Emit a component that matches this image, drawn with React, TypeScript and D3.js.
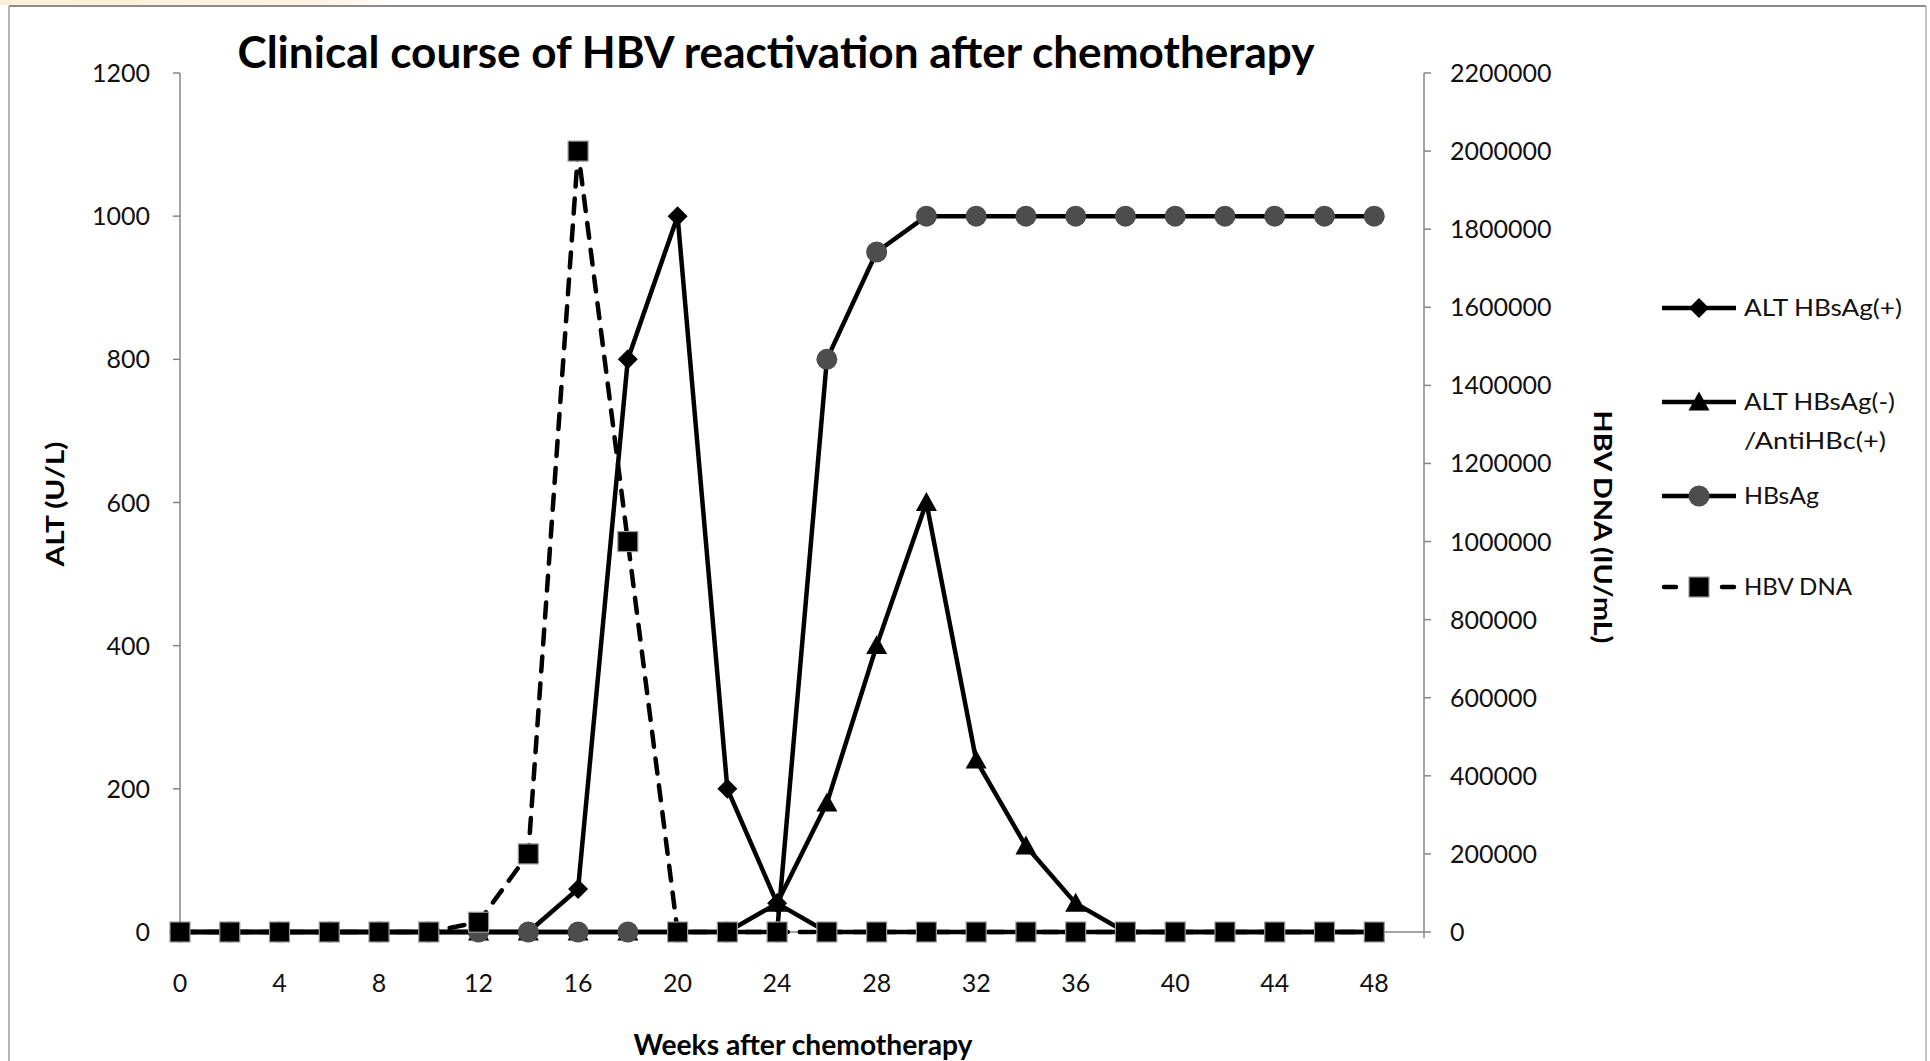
import React from "react";
import * as d3 from "d3";

const weeks = [0, 2, 4, 6, 8, 10, 12, 14, 16, 18, 20, 22, 24, 26, 28, 30, 32, 34, 36, 38, 40, 42, 44, 46, 48];
const altHBsAgPos = [0, 0, 0, 0, 0, 0, 0, 0, 60, 800, 1000, 200, 40, 0, 0, 0, 0, 0, 0, 0, 0, 0, 0, 0, 0];
const altHBsAgNeg = [0, 0, 0, 0, 0, 0, 0, 0, 0, 0, 0, 0, 40, 180, 400, 600, 240, 120, 40, 0, 0, 0, 0, 0, 0];
const hbsAg = [0, 0, 0, 0, 0, 0, 0, 0, 0, 0, 0, 0, 0, 800, 950, 1000, 1000, 1000, 1000, 1000, 1000, 1000, 1000, 1000, 1000];
const hbvDna = [0, 0, 0, 0, 0, 0, 25000, 200000, 2000000, 1000000, 0, 0, 0, 0, 0, 0, 0, 0, 0, 0, 0, 0, 0, 0, 0];

const xTickLabels = [0, 4, 8, 12, 16, 20, 24, 28, 32, 36, 40, 44, 48];
const xMinorTicks = [0, 2, 4, 6, 8, 10, 12, 14, 16, 18, 20, 22, 24, 26, 28, 30, 32, 34, 36, 38, 40, 42, 44, 46, 48, 50];
const leftTicks = [0, 200, 400, 600, 800, 1000, 1200];
const rightTicks = [0, 200000, 400000, 600000, 800000, 1000000, 1200000, 1400000, 1600000, 1800000, 2000000, 2200000];

const TITLE = "Clinical course of HBV reactivation after chemotherapy";
const X_TITLE = "Weeks after chemotherapy";
const Y_LEFT_TITLE = "ALT (U/L)";
const Y_RIGHT_TITLE = "HBV DNA (IU/mL)";

const FONT = "Lato, 'Open Sans', sans-serif";
const AXIS = "#868686";
const GRAY_MARK = "#4d4d4d";
const LW = 4.5;

const Diamond = ({ x, y, s = 10 }: { x: number; y: number; s?: number }) => (
  <path d={`M${x},${y - s}L${x + s},${y}L${x},${y + s}L${x - s},${y}Z`} fill="#000" />
);
const Triangle = ({ x, y, s = 10.5 }: { x: number; y: number; s?: number }) => (
  <path d={`M${x},${y - s}L${x + s},${y + s * 0.8}L${x - s},${y + s * 0.8}Z`} fill="#000" />
);
const Circle = ({ x, y }: { x: number; y: number }) => <circle cx={x} cy={y} r={10.5} fill={GRAY_MARK} />;
const Square = ({ x, y }: { x: number; y: number }) => (
  <rect x={x - 10} y={y - 10} width={20} height={20} fill="#000" stroke="#9a9a9a" strokeWidth={1.2} />
);

export default function App() {
  const x = d3.scaleLinear().domain([0, 50]).range([180, 1424]);
  const yL = d3.scaleLinear().domain([0, 1200]).range([932, 73]);
  const yR = d3.scaleLinear().domain([0, 2200000]).range([932, 73]);

  const lineL = (vals: number[]) =>
    d3.line<number>().x((_, i) => x(weeks[i])).y((v) => yL(v)).curve(d3.curveLinear)(vals) || "";
  const lineR = (vals: number[]) =>
    d3.line<number>().x((_, i) => x(weeks[i])).y((v) => yR(v)).curve(d3.curveLinear)(vals) || "";

  const legendItems = [
    { y: 308, type: "diamond" },
    { y: 402, type: "triangle" },
    { y: 496, type: "circle" },
    { y: 587, type: "square" },
  ];

  return (
    <div style={{ position: "fixed", left: 0, top: 0, width: 1930, height: 1061, background: "#fff" }}>
      <svg width={1930} height={1061} style={{ display: "block" }}>
        <defs>
          <linearGradient id="topStrip" x1="0" x2="1" y1="0" y2="0">
            <stop offset="0" stopColor="#fdf0d8" />
            <stop offset="0.85" stopColor="#fdf3e4" />
            <stop offset="1" stopColor="#ffffff" />
          </linearGradient>
        </defs>
        <rect x={0} y={0} width={1930} height={1061} fill="#fff" />
        <rect x={0} y={0} width={390} height={5} fill="url(#topStrip)" />
        {/* chart frame */}
        <line x1={9} y1={6} x2={1926} y2={6} stroke="#8c8c8c" strokeWidth={2} />
        <line x1={9} y1={6} x2={9} y2={1061} stroke="#9a9a9a" strokeWidth={1.5} />
        <line x1={1926} y1={6} x2={1926} y2={1061} stroke="#b0b0b0" strokeWidth={1.5} />

        {/* title */}
        <text x={776} y={68} textAnchor="middle" fontFamily={FONT} fontWeight={700} fontSize={43}
          textLength={1077} lengthAdjust="spacingAndGlyphs" fill="#000">{TITLE}</text>

        {/* axes */}
        <line x1={x(0)} y1={yL(1200)} x2={x(0)} y2={yL(0)} stroke={AXIS} strokeWidth={1.5} />
        <line x1={x(50)} y1={yR(2200000)} x2={x(50)} y2={yR(0)} stroke={AXIS} strokeWidth={1.5} />
        <line x1={x(0)} y1={yL(0)} x2={x(50)} y2={yL(0)} stroke={AXIS} strokeWidth={1.5} />
        {leftTicks.map((t) => (
          <g key={"l" + t}>
            <line x1={x(0) - 7} x2={x(0)} y1={yL(t)} y2={yL(t)} stroke={AXIS} strokeWidth={1.5} />
            <text x={150} y={yL(t)} dy="0.36em" textAnchor="end" fontFamily={FONT} fontSize={25} fill="#111">{t}</text>
          </g>
        ))}
        {rightTicks.map((t) => (
          <g key={"r" + t}>
            <line x1={x(50)} x2={x(50) + 7} y1={yR(t)} y2={yR(t)} stroke={AXIS} strokeWidth={1.5} />
            <text x={1450} y={yR(t)} dy="0.36em" textAnchor="start" fontFamily={FONT} fontSize={25} fill="#111">{t}</text>
          </g>
        ))}
        {xMinorTicks.map((t) => (
          <line key={"m" + t} x1={x(t)} x2={x(t)} y1={yL(0)} y2={yL(0) + 6} stroke={AXIS} strokeWidth={1.5} />
        ))}
        {xTickLabels.map((t) => (
          <text key={"x" + t} x={x(t)} y={983} dy="0.36em" textAnchor="middle" fontFamily={FONT} fontSize={25} fill="#111">{t}</text>
        ))}

        {/* axis titles */}
        <text x={803} y={1055} textAnchor="middle" fontFamily={FONT} fontWeight={700} fontSize={29}
          textLength={339} lengthAdjust="spacingAndGlyphs" fill="#000">{X_TITLE}</text>
        <text transform={`translate(55,504) rotate(-90)`} dy="0.36em" textAnchor="middle" fontFamily={FONT} fontWeight={700}
          fontSize={25} textLength={125} lengthAdjust="spacingAndGlyphs" fill="#000">{Y_LEFT_TITLE}</text>
        <text transform={`translate(1603,527) rotate(90)`} dy="0.36em" textAnchor="middle" fontFamily={FONT} fontWeight={700}
          fontSize={25} textLength={233} lengthAdjust="spacingAndGlyphs" fill="#000">{Y_RIGHT_TITLE}</text>

        {/* series: ALT HBsAg(+) */}
        <path d={lineL(altHBsAgPos)} fill="none" stroke="#000" strokeWidth={LW} strokeLinejoin="round" />
        {altHBsAgPos.map((v, i) => <Diamond key={"d" + i} x={x(weeks[i])} y={yL(v)} />)}
        {/* ALT HBsAg(-)/AntiHBc(+) */}
        <path d={lineL(altHBsAgNeg)} fill="none" stroke="#000" strokeWidth={LW} strokeLinejoin="round" />
        {altHBsAgNeg.map((v, i) => <Triangle key={"t" + i} x={x(weeks[i])} y={yL(v)} />)}
        {/* HBsAg */}
        <path d={lineL(hbsAg)} fill="none" stroke="#000" strokeWidth={LW} strokeLinejoin="round" />
        {hbsAg.map((v, i) => <Circle key={"c" + i} x={x(weeks[i])} y={yL(v)} />)}
        {/* HBV DNA */}
        <path d={lineR(hbvDna)} fill="none" stroke="#000" strokeWidth={LW} strokeDasharray="15 12" strokeLinecap="round" />
        {hbvDna.map((v, i) => <Square key={"s" + i} x={x(weeks[i])} y={yR(v)} />)}

        {/* legend */}
        {legendItems.map((it) => (
          <g key={it.type}>
            {it.type === "square" ? (
              <>
                <line x1={1664} x2={1676} y1={it.y} y2={it.y} stroke="#000" strokeWidth={LW} strokeLinecap="round" />
                <line x1={1722} x2={1734} y1={it.y} y2={it.y} stroke="#000" strokeWidth={LW} strokeLinecap="round" />
                <Square x={1699} y={it.y} />
              </>
            ) : (
              <line x1={1662} x2={1736} y1={it.y} y2={it.y} stroke="#000" strokeWidth={LW} />
            )}
            {it.type === "diamond" && <Diamond x={1699} y={it.y} />}
            {it.type === "triangle" && <Triangle x={1699} y={it.y} />}
            {it.type === "circle" && <Circle x={1699} y={it.y} />}
          </g>
        ))}
        <text x={1744} y={308} dy="0.36em" fontFamily={FONT} fontSize={23} textLength={158} lengthAdjust="spacingAndGlyphs" fill="#111">ALT HBsAg(+)</text>
        <text x={1744} y={402} dy="0.36em" fontFamily={FONT} fontSize={23} textLength={151} lengthAdjust="spacingAndGlyphs" fill="#111">ALT HBsAg(-)</text>
        <text x={1744} y={441} dy="0.36em" fontFamily={FONT} fontSize={23} textLength={142} lengthAdjust="spacingAndGlyphs" fill="#111">/AntiHBc(+)</text>
        <text x={1744} y={496} dy="0.36em" fontFamily={FONT} fontSize={23} textLength={75} lengthAdjust="spacingAndGlyphs" fill="#111">HBsAg</text>
        <text x={1744} y={587} dy="0.36em" fontFamily={FONT} fontSize={23} textLength={108} lengthAdjust="spacingAndGlyphs" fill="#111">HBV DNA</text>
      </svg>
    </div>
  );
}
